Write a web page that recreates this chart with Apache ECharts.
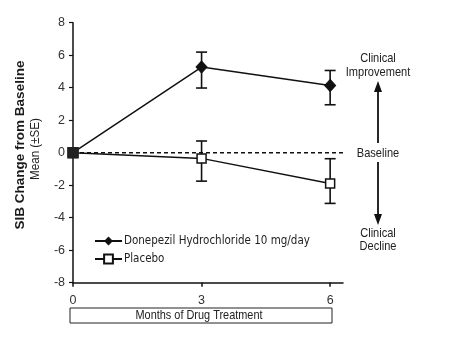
<!DOCTYPE html>
<html><head><meta charset="utf-8">
<script src="https://cdn.jsdelivr.net/npm/echarts@6/dist/echarts.min.js"></script>
<style>html,body{margin:0;padding:0;background:#fff}#c{width:452px;height:337px}</style>
</head><body><div id="c"></div>
<script>
const months = [0, 3, 6];
const donepezilMean = [0, 5.27, 4.14];
const donepezilHigh = [0, 6.19, 5.06];
const donepezilLow = [0, 3.98, 2.95];
const placeboMean = [0, -0.35, -1.9];
const placeboHigh = [0, 0.72, -0.37];
const placeboLow = [0, -1.75, -3.12];
const baselineX = [0, 6.45];
const yTicks = [-8, -6, -4, -2, 0, 2, 4, 6, 8];
const xTicks = [0, 3, 6];
const seriesNames = ['Donepezil Hydrochloride 10 mg/day', 'Placebo'];

const NARROW = "'DejaVu Sans Condensed',sans-serif";
const SANS = "'Liberation Sans', Arial, sans-serif";
const chart = echarts.init(document.getElementById('c'));

function errBars(high, low) {
  return months.map((m, i) => [m, low[i], high[i]]).filter((d, i) => high[i] !== low[i]);
}
function errRender(params, api) {
  const x = api.value(0);
  const lo = api.coord([x, api.value(1)]);
  const hi = api.coord([x, api.value(2)]);
  const w = 5.5;
  const st = {stroke: '#111', lineWidth: 1.6};
  return {type: 'group', children: [
    {type: 'line', shape: {x1: lo[0], y1: lo[1], x2: hi[0], y2: hi[1]}, style: st},
    {type: 'line', shape: {x1: lo[0] - w, y1: lo[1], x2: lo[0] + w, y2: lo[1]}, style: st},
    {type: 'line', shape: {x1: hi[0] - w, y1: hi[1], x2: hi[0] + w, y2: hi[1]}, style: st}
  ]};
}

const zeroItem = (v) => ({value: [0, v], symbol: 'rect', symbolSize: 10, itemStyle: {color: '#222', borderColor: '#222'}});
function narrowText(x, y, text, size, sx) {
  return {type: 'text', x: x, y: y, scaleX: sx,
    style: {text: text, font: size + 'px ' + SANS, fill: '#222', align: 'center', verticalAlign: 'middle'}};
}

chart.setOption({
  animation: false,
  grid: {left: 73, right: 109, top: 22.7, bottom: 54.3},
  xAxis: {
    type: 'value', min: 0, max: 6.3, interval: 3,
    axisLine: {show: true, onZero: false, lineStyle: {color: '#111', width: 1.5}},
    axisTick: {show: true, length: 4, customValues: xTicks, lineStyle: {color: '#111', width: 1.5}},
    axisLabel: {customValues: xTicks, color: '#333', fontSize: 12.5, fontFamily: SANS, margin: 11},
    splitLine: {show: false}
  },
  yAxis: {
    type: 'value', min: -8, max: 8, interval: 2,
    axisLine: {show: true, onZero: false, lineStyle: {color: '#111', width: 1.5}},
    axisTick: {show: true, length: 4, lineStyle: {color: '#111', width: 1.2}},
    axisLabel: {color: '#333', fontSize: 12.5, fontFamily: SANS, margin: 8,
      formatter: v => yTicks.includes(v) ? String(v) : ''},
    splitLine: {show: false}
  },
  legend: {
    left: 89, top: 230, orient: 'vertical', itemWidth: 27, itemHeight: 11, itemGap: 6,
    data: seriesNames,
    textStyle: {fontSize: 11.5, color: '#222', fontFamily: NARROW, padding: [0, 0, 0, -3]}
  },
  series: [
    {
      type: 'line', z: 1, silent: true, clip: false,
      data: baselineX.map(x => [x, 0]), symbol: 'none',
      lineStyle: {type: [4, 3], color: '#111', width: 1.5}
    },
    {
      name: seriesNames[1], type: 'line', z: 3,
      data: [zeroItem(placeboMean[0])].concat(months.slice(1).map((m, i) => [m, placeboMean[i + 1]])),
      symbol: 'rect', symbolSize: 9,
      lineStyle: {color: '#111', width: 1.5},
      itemStyle: {color: '#fff', borderColor: '#111', borderWidth: 1.5}
    },
    {
      name: seriesNames[0], type: 'line', z: 4,
      data: [zeroItem(donepezilMean[0])].concat(months.slice(1).map((m, i) => [m, donepezilMean[i + 1]])),
      symbol: 'diamond', symbolSize: [11, 12],
      lineStyle: {color: '#111', width: 1.5},
      itemStyle: {color: '#111', borderColor: '#111'}
    },
    {type: 'custom', renderItem: errRender, data: errBars(donepezilHigh, donepezilLow), z: 2, silent: true},
    {type: 'custom', renderItem: errRender, data: errBars(placeboHigh, placeboLow), z: 2, silent: true}
  ],
  graphic: [
    {type: 'text', x: 20, y: 145, rotation: Math.PI / 2,
      style: {text: 'SIB Change from Baseline', font: "bold 13.5px " + SANS, fill: '#1a1a1a', align: 'center', verticalAlign: 'middle'}},
    {type: 'text', x: 35, y: 149, rotation: Math.PI / 2, scaleX: 0.86,
      style: {text: 'Mean (±SE)', font: "13.5px " + SANS, fill: '#222', align: 'center', verticalAlign: 'middle'}},
    {type: 'rect', shape: {x: 70, y: 308, width: 262, height: 15}, style: {fill: '#fff', stroke: '#222', lineWidth: 1}},
    narrowText(199, 315.5, 'Months of Drug Treatment', 13, 0.84),
    narrowText(378, 58, 'Clinical', 13, 0.85),
    narrowText(378, 72, 'Improvement', 13, 0.85),
    narrowText(378, 153, 'Baseline', 13, 0.85),
    narrowText(378, 233, 'Clinical', 13, 0.85),
    narrowText(378, 246, 'Decline', 13, 0.85),
    {type: 'line', shape: {x1: 378, y1: 143, x2: 378, y2: 88}, style: {stroke: '#111', lineWidth: 1.8}},
    {type: 'polygon', shape: {points: [[378, 81], [374, 92], [382, 92]]}, style: {fill: '#111'}},
    {type: 'line', shape: {x1: 378, y1: 162, x2: 378, y2: 218}, style: {stroke: '#111', lineWidth: 1.8}},
    {type: 'polygon', shape: {points: [[378, 225], [374, 214], [382, 214]]}, style: {fill: '#111'}}
  ]
});
</script></body></html>
